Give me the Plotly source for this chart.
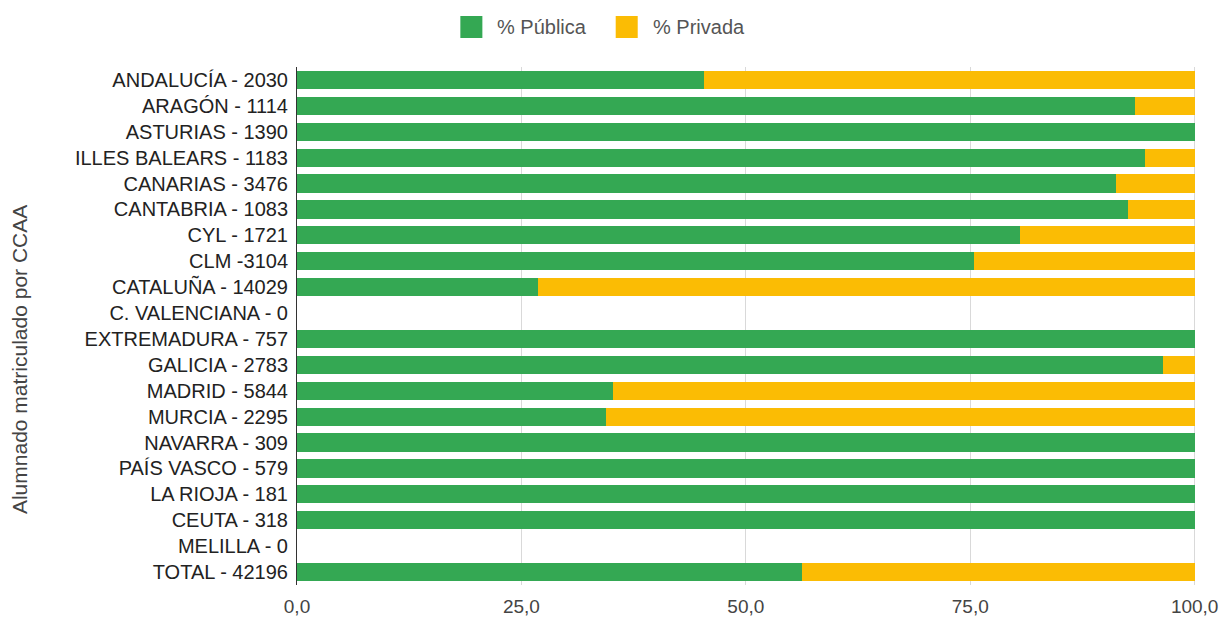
import plotly.graph_objects as go

categories = ["ANDALUCÍA - 2030", "ARAGÓN - 1114", "ASTURIAS - 1390", "ILLES BALEARS - 1183",
              "CANARIAS - 3476", "CANTABRIA - 1083", "CYL - 1721", "CLM -3104",
              "CATALUÑA - 14029", "C. VALENCIANA - 0", "EXTREMADURA - 757", "GALICIA - 2783",
              "MADRID - 5844", "MURCIA - 2295", "NAVARRA - 309", "PAÍS VASCO - 579",
              "LA RIOJA - 181", "CEUTA - 318", "MELILLA - 0", "TOTAL - 42196"]
publica = [45.3, 93.3, 100.0, 94.5, 91.2, 92.6, 80.5, 75.4, 26.8, 0.0,
           100.0, 96.5, 35.2, 34.4, 100.0, 100.0, 100.0, 100.0, 0.0, 56.3]
privada = [54.7, 6.7, 0.0, 5.5, 8.8, 7.4, 19.5, 24.6, 73.2, 0.0,
           0.0, 3.5, 64.8, 65.6, 0.0, 0.0, 0.0, 0.0, 0.0, 43.7]
tick_vals = [0, 25, 50, 75, 100]
series_names = ["% Pública", "% Privada"]
series_colors = ["#34A853", "#FBBC04"]

FONT = "Liberation Sans, Arial, sans-serif"

fig = go.Figure()
for name, vals, col in zip(series_names, [publica, privada], series_colors):
    fig.add_trace(go.Bar(y=categories, x=vals, name=name, orientation="h",
                         marker=dict(color=col, line=dict(width=0)), width=0.7,
                         showlegend=False))

# custom legend (larger swatches, like the reference)
legend_pos = [(0.1817, 0.2062, 0.2207), (0.3545, 0.3790, 0.3935)]
for (x0, x1, xt), name, col in zip(legend_pos, series_names, series_colors):
    fig.add_shape(type="rect", xref="paper", yref="paper", x0=x0, x1=x1, y0=1.056, y1=1.0985,
                  fillcolor=col, line=dict(width=0))
    fig.add_annotation(xref="paper", yref="paper", x=xt, y=1.077, text=name, showarrow=False,
                       xanchor="left", yanchor="middle",
                       font=dict(family=FONT, size=20, color="#555555"))

fig.add_annotation(xref="paper", yref="paper", x=-0.3088, y=0.435, text="Alumnado matriculado por CCAA",
                   textangle=-90, showarrow=False, xanchor="center", yanchor="middle",
                   font=dict(family=FONT, size=21, color="#444444"))

fig.update_layout(
    barmode="stack",
    width=1223, height=620,
    margin=dict(l=297, r=27, t=67, b=35),
    paper_bgcolor="white", plot_bgcolor="white",
    font=dict(family=FONT, size=20, color="#222222"),
    separators=",.",
    showlegend=False,
)
fig.update_xaxes(range=[0, 100.15], tickvals=tick_vals, tickformat=".1f", automargin=False,
                 showgrid=True, gridcolor="#d9d9d9", gridwidth=1, zeroline=False,
                 tickfont=dict(family=FONT, size=19, color="#444444"), showline=False,
                 fixedrange=True, ticklabelstandoff=8)
fig.update_yaxes(autorange="reversed", showline=True, linecolor="#333333", linewidth=1,
                 ticks="", ticklabelstandoff=4, automargin=False,
                 tickfont=dict(family=FONT, size=20, color="#222222"))
fig.write_html("out.html", config={"displayModeBar": False},
               post_script="document.body.style.margin='0';document.body.style.overflow='hidden';")
